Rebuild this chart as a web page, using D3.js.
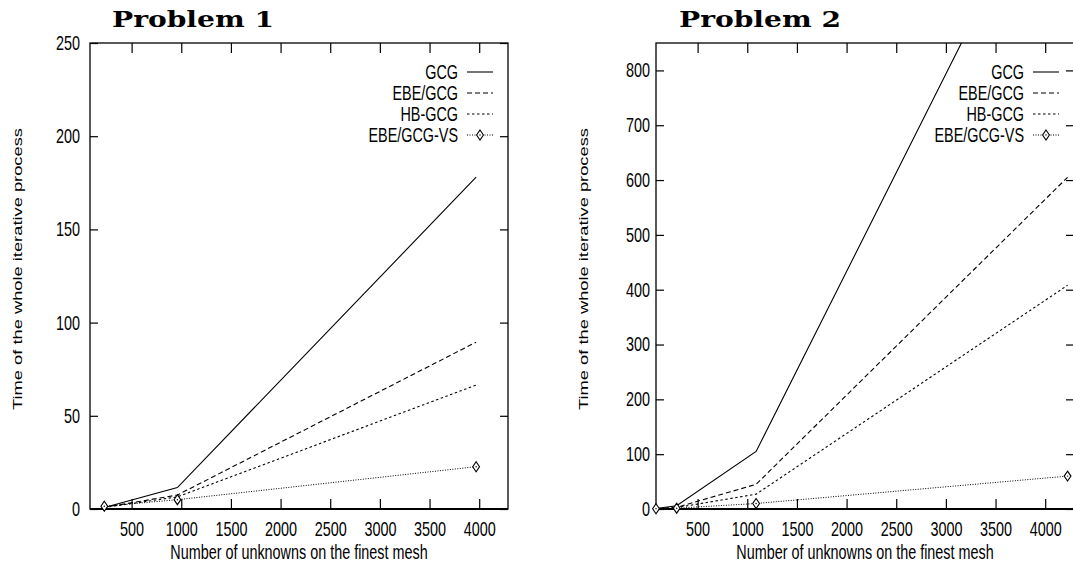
<!DOCTYPE html>
<html>
<head>
<meta charset="utf-8">
<script src="https://cdn.jsdelivr.net/npm/d3@7"></script>
<style>
  body { margin: 0; background: #fff; }
  svg { display: block; }
  text { font-family: "Liberation Sans", Arial, Helvetica, sans-serif; fill: #000; }
</style>
</head>
<body>
<div id="chart"></div>
<script>
// shared labels / ticks
var seriesNames = ["GCG", "EBE/GCG", "HB-GCG", "EBE/GCG-VS"];
var xTicks = [500, 1000, 1500, 2000, 2500, 3000, 3500, 4000];
var xDomain = [81, 4290];

// Problem 1
var p1Unknowns = [225, 961, 3969];
var p1GCG    = [0.8, 11.5, 178];
var p1EBE    = [0.9, 7.5, 89.5];
var p1HB     = [0.8, 6.5, 66.5];
var p1VS     = [1.5, 5, 22.7];
var p1YTicks = [0, 50, 100, 150, 200, 250];

// Problem 2
var p2Unknowns = [81, 289, 1089, 4225];
var p2GCG    = [1, 6, 105, 1235];
var p2EBE    = [0.5, 3, 45, 605];
var p2HB     = [0.5, 2.5, 27, 408];
var p2VS     = [0.5, 1.5, 10, 60];
var p2YTicks = [0, 100, 200, 300, 400, 500, 600, 700, 800];

var width = 1073, height = 567;
var squeeze = 0.72;   // text in the original looks horizontally squashed
var fontSize = 20;
var dashes = [null, "5,3", "2.5,2.5", "1,1.5"];
var diamond = "M0,-5L3.4,0L0,5L-3.4,0Z";

var svg = d3.select("#chart").append("svg")
    .attr("width", width)
    .attr("height", height);

function drawPanel(opt) {
    var left = opt.left, top = 43, w = 418, h = 466;
    var g = svg.append("g").attr("transform", "translate(" + left + "," + top + ")");

    var x = d3.scaleLinear().domain(xDomain).range([0, w]);
    var y = d3.scaleLinear().domain([0, opt.yMax]).range([h, 0]);

    g.append("clipPath").attr("id", opt.id + "-clip")
      .append("rect").attr("width", w).attr("height", h);

    // bottom axis with labels, ticks pointing inward
    var xa = g.append("g")
        .attr("transform", "translate(0," + h + ")")
        .call(d3.axisBottom(x).tickValues(xTicks).tickFormat(d3.format("d"))
            .tickSizeInner(-10).tickSizeOuter(0).tickPadding(13));
    // top mirror ticks
    var xt = g.append("g")
        .call(d3.axisTop(x).tickValues(xTicks).tickSizeInner(-10).tickSizeOuter(0).tickFormat(""));
    var ya = g.append("g")
        .call(d3.axisLeft(y).tickValues(opt.yTicks).tickFormat(d3.format("d"))
            .tickSizeInner(-8).tickSizeOuter(0));
    var yr = g.append("g")
        .attr("transform", "translate(" + w + ",0)")
        .call(d3.axisRight(y).tickValues(opt.yTicks).tickSizeInner(-8).tickSizeOuter(0).tickFormat(""));

    [xa, xt, ya, yr].forEach(function(a) {
        a.select(".domain").remove();
        a.selectAll("line").attr("stroke", "#000").attr("stroke-width", 1.2);
    });
    xa.selectAll("text")
        .attr("font-size", fontSize)
        .attr("font-family", null)
        .attr("transform", "scale(" + squeeze + ",1)");
    ya.selectAll("text")
        .attr("font-size", fontSize)
        .attr("font-family", null)
        .attr("x", -opt.yGap / squeeze)
        .attr("transform", "scale(" + squeeze + ",1)");

    // border
    g.append("rect")
        .attr("width", w).attr("height", h)
        .attr("fill", "none").attr("stroke", "#000").attr("stroke-width", 1.3);
    g.append("line")
        .attr("x1", 0).attr("x2", w).attr("y1", h).attr("y2", h)
        .attr("stroke", "#000").attr("stroke-width", 2.2);

    // series
    var plot = g.append("g").attr("clip-path", "url(#" + opt.id + "-clip)");
    var line = d3.line().x(function(d) { return x(d[0]); }).y(function(d) { return y(d[1]); });
    opt.series.forEach(function(vals, i) {
        var pts = opt.xs.map(function(v, j) { return [v, vals[j]]; });
        plot.append("path")
            .datum(pts)
            .attr("d", line)
            .attr("fill", "none")
            .attr("stroke", "#000")
            .attr("stroke-width", i == 3 ? 1 : 1.1)
            .attr("stroke-dasharray", dashes[i]);
        if (i == 3) {
            var m = g.selectAll(".mk").data(pts).enter().append("g")
                .attr("transform", function(d) { return "translate(" + x(d[0]) + "," + y(d[1]) + ")"; });
            m.append("path").attr("d", diamond).attr("fill", "#fff").attr("stroke", "#000").attr("stroke-width", 1.1);
            m.append("circle").attr("r", 0.7).attr("fill", "#000");
        }
    });

    // legend
    var lx2 = w - 15, lx1 = w - 41;
    seriesNames.forEach(function(name, i) {
        var ly = 29 + 21 * i;
        g.append("g")
            .attr("transform", "translate(" + (lx1 - 9) + "," + ly + ") scale(" + squeeze + ",1)")
          .append("text")
            .attr("text-anchor", "end")
            .attr("dy", "0.35em")
            .attr("font-size", fontSize)
            .text(name);
        g.append("line")
            .attr("x1", lx1).attr("x2", lx2).attr("y1", ly).attr("y2", ly)
            .attr("stroke", "#000").attr("stroke-width", 1.1)
            .attr("stroke-dasharray", dashes[i]);
        if (i == 3) {
            var lm = g.append("g").attr("transform", "translate(" + ((lx1 + lx2) / 2) + "," + ly + ")");
            lm.append("path").attr("d", diamond).attr("fill", "#fff").attr("stroke", "#000").attr("stroke-width", 1.1);
            lm.append("circle").attr("r", 0.7).attr("fill", "#000");
        }
    });

    // axis titles
    svg.append("g")
        .attr("transform", "translate(" + (left + w / 2) + ",559) scale(" + squeeze + ",1)")
      .append("text")
        .attr("text-anchor", "middle")
        .attr("font-size", fontSize)
        .text("Number of unknowns on the finest mesh");
    svg.append("g")
        .attr("transform", "translate(" + opt.yLabelX + ",269) scale(" + squeeze + ",1) rotate(-90)")
      .append("text")
        .attr("text-anchor", "middle")
        .attr("dy", "0.35em")
        .attr("font-size", 18.3)
        .text("Time of the whole iterative process");

    // panel title (CSS font rule would override an attribute, so use style)
    svg.append("text")
        .attr("x", opt.titleX)
        .attr("y", 27)
        .style("font-family", "'DejaVu Serif', 'Liberation Serif', serif")
        .style("font-weight", "bold")
        .style("font-size", "23px")
        .attr("textLength", 162)
        .attr("lengthAdjust", "spacingAndGlyphs")
        .text(opt.title);
}

drawPanel({
    id: "p1", left: 90, yMax: 250, yTicks: p1YTicks, yGap: 10, yLabelX: 17,
    xs: p1Unknowns, series: [p1GCG, p1EBE, p1HB, p1VS],
    title: "Problem 1", titleX: 112
});
drawPanel({
    id: "p2", left: 656, yMax: 850, yTicks: p2YTicks, yGap: 6, yLabelX: 583,
    xs: p2Unknowns, series: [p2GCG, p2EBE, p2HB, p2VS],
    title: "Problem 2", titleX: 679
});
</script>
</body>
</html>
